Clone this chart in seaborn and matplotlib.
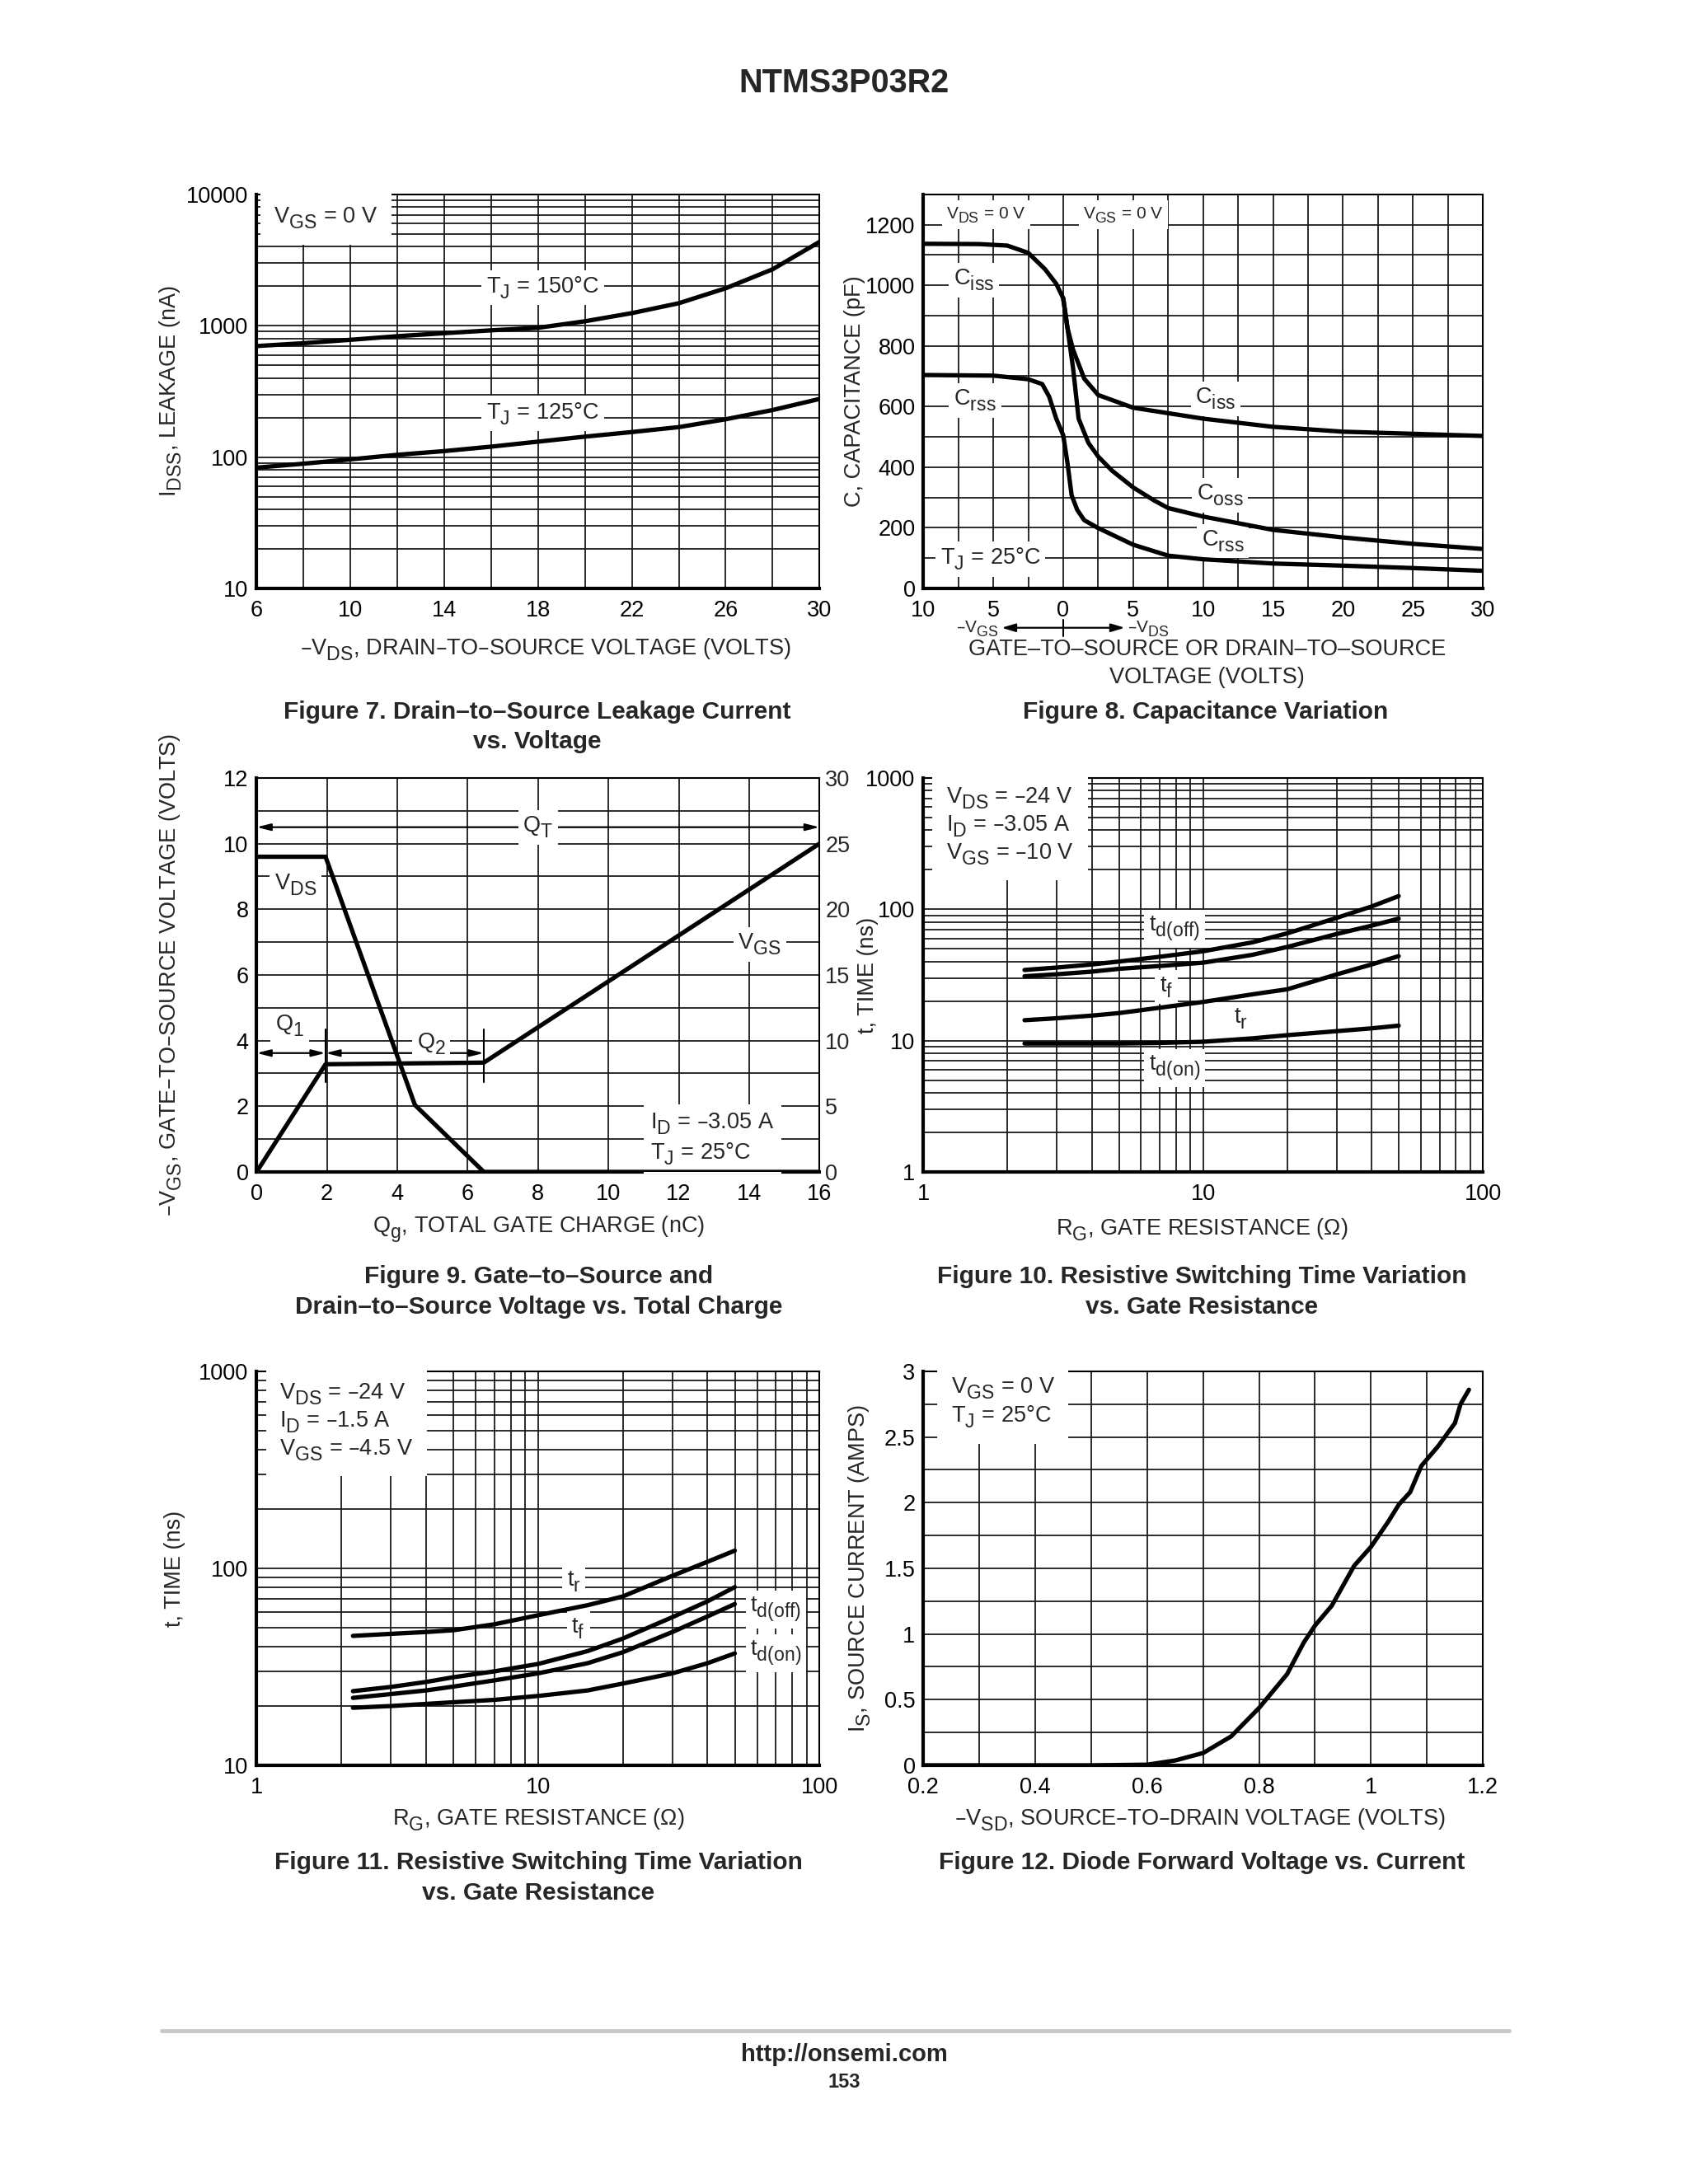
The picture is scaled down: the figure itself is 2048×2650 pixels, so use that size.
import numpy as np
import pandas as pd
import matplotlib
matplotlib.use('Agg')
from matplotlib import pyplot as plt
from matplotlib.ticker import NullFormatter
import matplotlib._mathtext as mathtext_mod
import seaborn as sns

# ---- Figure 7 : leakage vs VDS
vds7 = [6, 8, 10, 12, 14, 16, 18, 20, 22, 24, 26, 28, 30]
idss_150 = [700, 736, 781, 832, 877, 922, 964, 1081, 1247, 1483, 1928, 2690, 4350]
idss_125 = [83, 89, 96, 104, 111, 120, 131, 143, 155, 169, 194, 228, 277]

# ---- Figure 8 : capacitance (negative x = VGS side)
ciss_v = [-10, -6, -4, -2.5, -1.3, -0.5, 0, 0.3, 0.7, 1.5, 2.5, 5, 7.5, 10, 15, 20, 25, 30]
ciss = [1137, 1136, 1131, 1107, 1053, 1005, 957, 860, 788, 692, 638, 596, 578, 560, 533, 517, 510, 503]
coss_v = [0, 0.3, 0.7, 1.1, 1.8, 2.5, 3.5, 5, 6.5, 7.5, 10, 15, 20, 25, 30]
coss = [957, 860, 728, 560, 480, 435, 388, 333, 290, 265, 237, 193, 168, 147, 130]
crss_v = [-10, -5, -2.5, -1.5, -1, -0.5, 0, 0.3, 0.6, 1, 1.5, 2.5, 5, 7.5, 10, 15, 20, 25, 30]
crss = [704, 702, 690, 674, 632, 560, 505, 415, 307, 259, 225, 199, 144, 108, 96, 82, 75, 67, 58]

# ---- Figure 9 : gate charge
qg_vgs = [0, 1.96, 6.46, 16]
vgs9 = [0, 3.28, 3.33, 10.0]
qg_vds = [0, 1.96, 4.5, 6.46, 16]
vds9 = [24.0, 24.0, 5.1, 0, 0]
q1_end = 1.96
q2_end = 6.46

# ---- Figure 10 : switching time, VGS = -10 V
rg10 = [2.3, 3, 4, 5, 7, 10, 15, 20, 30, 40, 50]
tdoff10 = [34.5, 36, 38, 40, 43.5, 47.9, 56, 65.6, 86, 105, 126]
tf10 = [30.9, 32, 33.5, 35.2, 37, 39.2, 45, 51.7, 64.8, 75, 84.9]
tr10 = [14.3, 14.8, 15.5, 16.2, 17.8, 19.7, 22.5, 24.6, 31.9, 38, 44]
tdon10 = [9.5, 9.5, 9.5, 9.5, 9.6, 9.8, 10.4, 11.0, 11.8, 12.4, 13.0]

# ---- Figure 11 : switching time, VGS = -4.5 V
rg11 = [2.2, 3, 4, 5, 7, 10, 15, 20, 30, 40, 50]
tr11 = [45.4, 46.5, 47.5, 48.5, 52, 57.8, 65, 72, 91.6, 108, 123]
tf11 = [23.8, 25, 26.5, 28, 30, 32.7, 38, 44, 56.5, 68, 80.3]
tdoff11 = [22.0, 23, 24, 25.1, 27, 29.3, 33, 37.5, 47.5, 57, 65.9]
tdon11 = [19.6, 20, 20.5, 20.9, 21.5, 22.5, 24, 26, 29.3, 33, 37]

# ---- Figure 12 : diode forward
vsd = [0.2, 0.3, 0.4, 0.5, 0.6, 0.65, 0.7, 0.75, 0.8, 0.85, 0.88, 0.9, 0.93, 0.97,
       1.0, 1.03, 1.05, 1.07, 1.09, 1.12, 1.15, 1.16, 1.175]
is12 = [0, 0, 0, 0, 0.005, 0.037, 0.094, 0.22, 0.437, 0.694, 0.936, 1.065, 1.216, 1.52,
        1.664, 1.85, 1.987, 2.08, 2.28, 2.43, 2.606, 2.75, 2.86]

sns.set_style('white')
plt.rcParams['font.family'] = ['Liberation Sans', 'DejaVu Sans']
plt.rcParams['mathtext.default'] = 'regular'
# datasheet subscripts are nearly full size and sit low
mathtext_mod.SHRINK_FACTOR = 0.85
mathtext_mod.FontConstantsBase.sub1 = 0.5

TICK = 19.5
LW = 3.8
FS = 19.5

fig = plt.figure(figsize=(20.48, 26.5), dpi=100)
L1, L2, W1, W2 = 0.152, 0.547, 0.3335, 0.3315
rows = [0.7306, 0.4634, 0.1917]
H = 0.1804
ax7 = fig.add_axes([L1, rows[0], W1, H])
ax8 = fig.add_axes([L2, rows[0], W2, H])
ax9 = fig.add_axes([L1, rows[1], W1, H])
ax10 = fig.add_axes([L2, rows[1], W2, H])
ax11 = fig.add_axes([L1, rows[2], W1, H])
ax12 = fig.add_axes([L2, rows[2], W2, H])


def style(ax):
    ax.set_axisbelow(True)
    ax.grid(True, which='both', color='#1a1a1a', lw=1.3)
    ax.tick_params(which='both', length=0, labelsize=TICK, pad=7, colors='black')
    ax.tick_params(axis='x', which='both', pad=10)
    for sp in ax.spines.values():
        sp.set_color('black')
        sp.set_linewidth(1.5)
    ax.spines['left'].set_linewidth(3)
    ax.spines['bottom'].set_linewidth(3)
    ax.set_xlabel('')
    ax.set_ylabel('')


def curve(ax, x, y):
    sns.lineplot(x=x, y=y, ax=ax, color='black', lw=LW, sort=False, estimator=None, zorder=4)


def lab(ax, x, y, s, fs=FS, ha='center', tr=None, pad=4):
    ax.text(x, y, s, fontsize=fs, ha=ha, va='center', zorder=3,
            bbox=dict(facecolor='white', edgecolor='none', pad=pad),
            transform=tr if tr is not None else ax.transData)


def ylab(ax, xpos, s):
    ax.text(xpos, 0.5, s, rotation=90, fontsize=FS, ha='center', va='center', transform=ax.transAxes)


# ---------------- Figure 7
curve(ax7, vds7, idss_150)
curve(ax7, vds7, idss_125)
ax7.set_yscale('log')
ax7.set_xlim(6, 30)
ax7.set_ylim(10, 10000)
ax7.set_xticks(range(6, 31, 4), [str(v) for v in range(6, 31, 4)])
ax7.set_xticks(range(8, 30, 4), minor=True)
ax7.set_yticks([10, 100, 1000, 10000], ['10', '100', '1000', '10000'])
ax7.yaxis.set_minor_formatter(NullFormatter())
style(ax7)
lab(ax7, 0.031, 0.94, r'$V_{GS}$ = 0 V', ha='left', tr=ax7.transAxes, pad=12)
lab(ax7, 18.2, 1950, r'$T_J$ = 150°C')
lab(ax7, 18.2, 214, r'$T_J$ = 125°C')
ylab(ax7, -0.152, r'$I_{DSS}$, LEAKAGE (nA)')

# ---------------- Figure 8
curve(ax8, ciss_v, ciss)
curve(ax8, coss_v, coss)
curve(ax8, crss_v, crss)
ax8.set_xlim(-10, 30)
ax8.set_ylim(0, 1300)
xt8 = list(range(-10, 31, 5))
ax8.set_xticks(xt8, [str(abs(v)) for v in xt8])
ax8.set_xticks(np.arange(-7.5, 30, 5), minor=True)
ax8.set_yticks(range(0, 1201, 200), [str(v) for v in range(0, 1201, 200)])
ax8.set_yticks(range(100, 1301, 200), minor=True)
style(ax8)
lab(ax8, -5.5, 1232, r'$V_{DS}$ = 0 V', fs=15)
lab(ax8, 4.3, 1232, r'$V_{GS}$ = 0 V', fs=15)
lab(ax8, -6.4, 1017, r'$C_{iss}$')
lab(ax8, -6.3, 620, r'$C_{rss}$')
lab(ax8, 10.9, 626, r'$C_{iss}$')
lab(ax8, 11.2, 307, r'$C_{oss}$')
lab(ax8, 11.4, 156, r'$C_{rss}$')
lab(ax8, -5.2, 96, r'$T_J$ = 25°C')
ylab(ax8, -0.123, 'C, CAPACITANCE (pF)')
tx8 = ax8.get_xaxis_transform()
ax8.annotate('', xy=(-4.4, -0.1), xytext=(4.4, -0.1), xycoords=tx8, textcoords=tx8,
             arrowprops=dict(arrowstyle='<|-|>,head_length=1.0,head_width=0.3', color='black',
                             lw=1.6, shrinkA=0, shrinkB=0), annotation_clip=False)
ax8.plot([0, 0], [-0.079, -0.121], transform=tx8, color='black', lw=1.5, clip_on=False)
ax8.text(-4.6, -0.104, r'–$V_{GS}$', transform=tx8, fontsize=15, ha='right', va='center')
ax8.text(4.6, -0.104, r'–$V_{DS}$', transform=tx8, fontsize=15, ha='left', va='center')

# ---------------- Figure 9
ax9b = ax9.twinx()
curve(ax9, qg_vgs, vgs9)
curve(ax9b, qg_vds, vds9)
ax9.set_xlim(0, 16)
ax9.set_ylim(0, 12)
ax9b.set_ylim(0, 30)
ax9.set_xticks(range(0, 17, 2), [str(v) for v in range(0, 17, 2)])
ax9.set_yticks(range(0, 13, 2), [str(v) for v in range(0, 13, 2)])
ax9.set_yticks(range(1, 12, 2), minor=True)
style(ax9)
ax9b.set_yticks(range(0, 31, 5), [str(v) for v in range(0, 31, 5)])
ax9b.tick_params(length=0, labelsize=TICK, pad=5)
ax9b.grid(False)
ax9b.set_ylabel('')
for sp in ax9b.spines.values():
    sp.set_visible(False)
arr = dict(arrowstyle='<|-|>,head_length=1.0,head_width=0.25', color='black', lw=1.6,
           shrinkA=0, shrinkB=0)
ax9.annotate('', xy=(0, 10.5), xytext=(16, 10.5), arrowprops=arr, annotation_clip=False)
ax9.annotate('', xy=(0, 3.62), xytext=(q1_end, 3.62), arrowprops=arr)
ax9.annotate('', xy=(q1_end, 3.62), xytext=(q2_end, 3.62), arrowprops=arr)
for qx in [q1_end, q2_end]:
    ax9.plot([qx, qx], [2.73, 4.34], color='black', lw=1.5)
lab(ax9, 8.0, 10.5, r'$Q_T$')
lab(ax9, 0.94, 4.45, r'$Q_1$')
lab(ax9, 4.96, 3.9, r'$Q_2$')
lab(ax9, 1.1, 8.75, r'$V_{DS}$')
lab(ax9, 14.3, 6.93, r'$V_{GS}$')
ax9.text(11.2, 1.0, '$I_D$ = –3.05 A\n$T_J$ = 25°C', fontsize=FS, ha='left', va='center',
         linespacing=1.25, bbox=dict(facecolor='white', edgecolor='none', pad=6), zorder=3)
ylab(ax9, -0.152, r'–$V_{GS}$, GATE–TO–SOURCE VOLTAGE (VOLTS)')

# ---------------- Figure 10
for yv in [tdoff10, tf10, tr10, tdon10]:
    curve(ax10, rg10, yv)
ax10.set_xscale('log')
ax10.set_yscale('log')
ax10.set_xlim(1, 100)
ax10.set_ylim(1, 1000)
ax10.set_xticks([1, 10, 100], ['1', '10', '100'])
ax10.set_yticks([1, 10, 100, 1000], ['1', '10', '100', '1000'])
ax10.xaxis.set_minor_formatter(NullFormatter())
ax10.yaxis.set_minor_formatter(NullFormatter())
style(ax10)
ax10.text(0.041, 0.877, '$V_{DS}$ = –24 V\n$I_D$ = –3.05 A\n$V_{GS}$ = –10 V', transform=ax10.transAxes,
          fontsize=FS, ha='left', va='center', linespacing=1.15,
          bbox=dict(facecolor='white', edgecolor='none', pad=12), zorder=3)
lab(ax10, 7.9, 71, r'$t_{d(off)}$')
lab(ax10, 7.4, 25.5, r'$t_f$')
lab(ax10, 13.6, 14.7, r'$t_r$')
lab(ax10, 7.9, 6.2, r'$t_{d(on)}$')
ylab(ax10, -0.0985, 't, TIME (ns)')

# ---------------- Figure 11
for yv in [tr11, tf11, tdoff11, tdon11]:
    curve(ax11, rg11, yv)
ax11.set_xscale('log')
ax11.set_yscale('log')
ax11.set_xlim(1, 100)
ax11.set_ylim(10, 1000)
ax11.set_xticks([1, 10, 100], ['1', '10', '100'])
ax11.set_yticks([10, 100, 1000], ['10', '100', '1000'])
ax11.xaxis.set_minor_formatter(NullFormatter())
ax11.yaxis.set_minor_formatter(NullFormatter())
style(ax11)
ax11.text(0.041, 0.871, '$V_{DS}$ = –24 V\n$I_D$ = –1.5 A\n$V_{GS}$ = –4.5 V', transform=ax11.transAxes,
          fontsize=FS, ha='left', va='center', linespacing=1.15,
          bbox=dict(facecolor='white', edgecolor='none', pad=12), zorder=3)
lab(ax11, 13.4, 85.8, r'$t_r$')
lab(ax11, 13.9, 49.6, r'$t_f$')
lab(ax11, 70, 61.7, r'$t_{d(off)}$')
lab(ax11, 70, 37, r'$t_{d(on)}$')
ylab(ax11, -0.145, 't, TIME (ns)')

# ---------------- Figure 12
curve(ax12, vsd, is12)
ax12.set_xlim(0.2, 1.2)
ax12.set_ylim(0, 3)
ax12.set_xticks([0.2, 0.4, 0.6, 0.8, 1.0, 1.2], ['0.2', '0.4', '0.6', '0.8', '1', '1.2'])
ax12.set_xticks([0.3, 0.5, 0.7, 0.9, 1.1], minor=True)
ax12.set_yticks([0, 0.5, 1, 1.5, 2, 2.5, 3], ['0', '0.5', '1', '1.5', '2', '2.5', '3'])
ax12.set_yticks([0.25, 0.75, 1.25, 1.75, 2.25, 2.75], minor=True)
style(ax12)
ax12.text(0.049, 0.92, '$V_{GS}$ = 0 V\n$T_J$ = 25°C', transform=ax12.transAxes,
          fontsize=FS, ha='left', va='center', linespacing=1.15,
          bbox=dict(facecolor='white', edgecolor='none', pad=12), zorder=3)
ylab(ax12, -0.113, r'$I_S$, SOURCE CURRENT (AMPS)')

# ---------------- page text
fig.text(0.5, 0.962, 'NTMS3P03R2', fontsize=28.5, fontweight='bold', ha='center', va='center')
fig.text(0.323, 0.7027, r'–$V_{DS}$, DRAIN–TO–SOURCE VOLTAGE (VOLTS)', fontsize=FS, ha='center', va='center')
fig.text(0.715, 0.7027, 'GATE–TO–SOURCE OR DRAIN–TO–SOURCE', fontsize=FS, ha='center', va='center')
fig.text(0.715, 0.690, 'VOLTAGE (VOLTS)', fontsize=FS, ha='center', va='center')
fig.text(0.319, 0.4369, r'$Q_g$, TOTAL GATE CHARGE (nC)', fontsize=FS, ha='center', va='center')
fig.text(0.712, 0.4369, r'$R_G$, GATE RESISTANCE (Ω)', fontsize=FS, ha='center', va='center')
fig.text(0.319, 0.1667, r'$R_G$, GATE RESISTANCE (Ω)', fontsize=FS, ha='center', va='center')
fig.text(0.711, 0.1667, r'–$V_{SD}$, SOURCE–TO–DRAIN VOLTAGE (VOLTS)', fontsize=FS, ha='center', va='center')

CAP = 21.5
captions = [
    (0.318, 0.674, 'Figure 7. Drain–to–Source Leakage Current'),
    (0.318, 0.6604, 'vs. Voltage'),
    (0.714, 0.674, 'Figure 8. Capacitance Variation'),
    (0.319, 0.4154, 'Figure 9. Gate–to–Source and'),
    (0.319, 0.4015, 'Drain–to–Source Voltage vs. Total Charge'),
    (0.712, 0.4154, 'Figure 10. Resistive Switching Time Variation'),
    (0.712, 0.4015, 'vs. Gate Resistance'),
    (0.319, 0.1471, 'Figure 11. Resistive Switching Time Variation'),
    (0.319, 0.1332, 'vs. Gate Resistance'),
    (0.712, 0.1471, 'Figure 12. Diode Forward Voltage vs. Current'),
]
for cx, cy, ct in captions:
    fig.text(cx, cy, ct, fontsize=CAP, fontweight='bold', ha='center', va='center')

fig.add_artist(plt.Line2D([0.0956, 0.894], [0.0701, 0.0701], color='#c8c8c8', lw=3.5,
                          transform=fig.transFigure))
fig.text(0.5, 0.0593, 'http://onsemi.com', fontsize=21, fontweight='bold', ha='center', va='center')
fig.text(0.5, 0.0467, '153', fontsize=17, fontweight='bold', ha='center', va='center')

fig.savefig('out.png', dpi=100, facecolor='white')
plt.close('all')
